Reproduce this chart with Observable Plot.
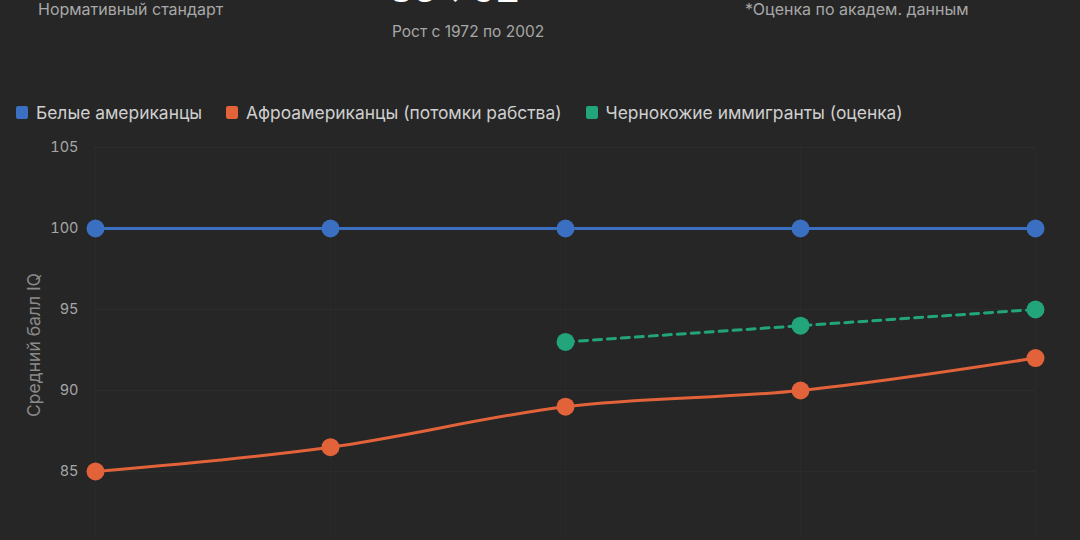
<!DOCTYPE html>
<html><head><meta charset="utf-8">
<script src="https://cdn.jsdelivr.net/npm/d3@7"></script>
<script src="https://cdn.jsdelivr.net/npm/@observablehq/plot@0.6"></script>
<style>
html,body{margin:0;padding:0;background:#262626;width:1080px;height:540px;overflow:hidden;font-family:Inter,"Noto Sans",sans-serif;}
#wrap{position:relative;width:1080px;height:540px;overflow:hidden;}
.hdr{position:absolute;white-space:nowrap;}
.lbl{font-size:16px;color:#a8a8a8;line-height:18px;}
.big{font-size:37px;font-weight:700;color:#fff;line-height:37px;}
#legend{position:absolute;left:16px;top:100px;height:24px;display:flex;align-items:center;font-size:17.4px;color:#cfcfcf;}
#legend .it{display:flex;align-items:center;margin-right:24px;}
#legend .sw{width:12px;height:13px;border-radius:2px;margin-right:8px;}
#chart{position:absolute;left:0;top:130px;}
</style></head>
<body><div id="wrap">
<div class="hdr lbl" style="left:38px;top:0px;">Нормативный стандарт</div>
<div class="hdr big" style="left:389px;top:-30px;">85→92</div>
<div class="hdr lbl" style="left:392px;top:23px;font-size:15.5px;">Рост с 1972 по 2002</div>
<div class="hdr lbl" style="left:745px;top:0px;">*Оценка по академ. данным</div>
<div id="legend"></div>
<div id="chart"></div>
</div>
<script>
const years = ["1972", "1980", "1990", "1995", "2002"];
const seriesNames = ["Белые американцы", "Афроамериканцы (потомки рабства)", "Чернокожие иммигранты (оценка)"];
const seriesColors = ["#3a6fc2", "#e2623a", "#22a57b"];
const whiteValues = [100, 100, 100, 100, 100];
const blackValues = [85, 86.5, 89, 90, 92];
const immigrantValues = [null, null, 93, 94, 95];
const yTicks = [85, 90, 95, 100, 105];

const legend = document.getElementById("legend");
seriesNames.forEach((n, i) => {
  const it = document.createElement("div"); it.className = "it";
  const sw = document.createElement("div"); sw.className = "sw"; sw.style.background = seriesColors[i];
  const t = document.createElement("span"); t.textContent = n;
  it.appendChild(sw); it.appendChild(t); legend.appendChild(it);
});

const toRows = (vals, s) => years.map((y, i) => ({year: y, value: vals[i], series: s})).filter(d => d.value != null);
const white = toRows(whiteValues, seriesNames[0]);
const black = toRows(blackValues, seriesNames[1]);
const imm = toRows(immigrantValues, seriesNames[2]);

const chart = Plot.plot({
  width: 1080, height: 460,
  marginLeft: 94, marginRight: 45, marginTop: 17, marginBottom: 38,
  style: {background: "transparent", fontFamily: "Inter, 'Noto Sans', sans-serif"},
  x: {type: "point", domain: years, padding: 0, axis: null},
  y: {domain: [80, 105], ticks: yTicks},
  color: {domain: seriesNames, range: seriesColors},
  marks: [
    Plot.ruleY(yTicks, {stroke: "#ffffff", strokeOpacity: 0.03}),
    Plot.ruleX(years, {stroke: "#ffffff", strokeOpacity: 0.015}),
    Plot.axisY({ticks: yTicks, tickSize: 0, tickPadding: 16, fill: "#a6a6a6", fontSize: 14.5,
      label: "Средний балл IQ", labelAnchor: "center", labelArrow: "none", labelOffset: 67}),
    Plot.line(white, {x: "year", y: "value", stroke: seriesColors[0], strokeWidth: 3}),
    Plot.line(black, {x: "year", y: "value", stroke: seriesColors[1], strokeWidth: 3, curve: "monotone-x"}),
    Plot.line(imm, {x: "year", y: "value", stroke: seriesColors[2], strokeWidth: 3, strokeDasharray: "8,6", curve: "monotone-x"}),
    Plot.dot(white, {x: "year", y: "value", fill: seriesColors[0], r: 9}),
    Plot.dot(black, {x: "year", y: "value", fill: seriesColors[1], r: 9}),
    Plot.dot(imm, {x: "year", y: "value", fill: seriesColors[2], r: 9})
  ]
});
document.getElementById("chart").appendChild(chart);
const lab = chart.querySelector("[aria-label='y-axis label']");
if (lab) {
  lab.setAttribute("fill", "#8a8a8a");
  lab.querySelectorAll("text").forEach(t => { t.style.fontSize = "17.5px"; t.setAttribute("dx", "5"); });
}
</script>
</body></html>
